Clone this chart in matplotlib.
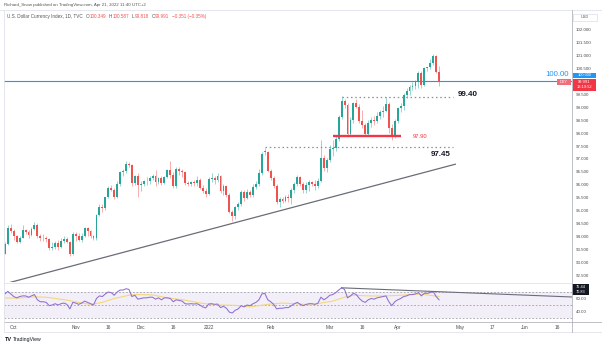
import numpy as np
import pandas as pd
import matplotlib
matplotlib.use('Agg')
import matplotlib.pyplot as plt
import matplotlib.transforms as mtransforms
from matplotlib.lines import Line2D
from matplotlib.patches import Rectangle

plt.rcParams['font.family'] = ['Liberation Sans', 'DejaVu Sans']

# TVC:DXY daily candles, 28 Sep 2021 -> 21 Apr 2022 (one row per week)
opens = [
    93.35, 93.72, 94.33, 94.22,
    94.04, 93.82, 93.97, 94.25, 94.21,
    94.07, 94.31, 94.48, 94.05, 93.97,
    93.95, 93.94, 93.56, 93.60, 93.77,
    93.62, 93.86, 93.93, 93.80, 93.33,
    94.12, 94.05, 93.90, 94.05, 94.35,
    94.23, 94.05, 93.96, 94.86, 95.15,
    95.12, 95.53, 95.90, 95.82, 95.55,
    96.05, 96.50, 96.52, 96.80, 96.76,
    96.09, 96.36, 95.99, 96.04, 96.15,
    96.14, 96.28, 96.34, 96.11, 96.26,
    96.08, 96.31, 96.56, 96.40, 95.96,
    96.62, 96.55, 96.50, 96.08, 96.05,
    96.10, 96.08, 96.20, 95.90, 95.75,
    95.65, 96.22, 96.28, 96.20, 96.33,
    95.75, 95.95, 95.62, 94.98, 94.80,
    95.15, 95.25, 95.72, 95.50, 95.72,
    95.62, 95.92, 96.05, 96.45, 97.30,
    97.25, 96.55, 96.28, 95.98, 95.35,
    95.45, 95.40, 95.55, 95.50, 95.80,
    96.02, 96.30, 96.05, 95.80, 96.00,
    96.10, 96.05, 95.95, 96.15, 97.05,
    96.65, 96.95, 97.40, 97.42, 97.78,
    98.60, 99.25, 99.08, 97.95, 98.50,
    99.15, 99.00, 98.45, 98.30, 97.98,
    98.40, 98.50, 98.45, 98.65, 98.80,
    98.85, 99.10, 98.20, 97.85, 98.45,
    98.95, 99.05, 99.48, 99.62, 99.78,
    99.82, 99.95, 100.32, 99.85, 100.50,
    100.52, 100.70, 100.97, 100.349,
]
highs = [
    93.80, 94.45, 94.50, 94.30,
    94.07, 94.05, 94.45, 94.30, 94.28,
    94.40, 94.56, 94.52, 94.12, 94.10,
    94.05, 93.96, 93.80, 93.85, 93.90,
    93.95, 94.05, 94.00, 93.85, 94.18,
    94.18, 94.15, 94.15, 94.40, 94.40,
    94.25, 94.08, 94.90, 95.25, 95.26,
    95.55, 95.95, 96.00, 95.90, 96.15,
    96.55, 96.60, 96.94, 96.90, 96.80,
    96.40, 96.45, 96.15, 96.20, 96.30,
    96.35, 96.42, 96.58, 96.30, 96.35,
    96.35, 96.60, 96.91, 96.50, 96.70,
    96.70, 96.60, 96.52, 96.15, 96.15,
    96.20, 96.35, 96.25, 96.00, 95.90,
    96.30, 96.45, 96.35, 96.45, 96.40,
    96.05, 96.00, 95.70, 95.05, 95.20,
    95.35, 95.80, 95.80, 95.85, 95.80,
    96.05, 96.15, 96.60, 97.25, 97.44,
    97.30, 96.60, 96.35, 96.05, 95.55,
    95.55, 95.60, 95.65, 95.90, 96.10,
    96.40, 96.35, 96.10, 96.10, 96.20,
    96.15, 96.20, 96.25, 97.74, 97.15,
    97.05, 97.55, 97.75, 97.90, 98.70,
    99.42, 99.30, 99.15, 98.60, 99.20,
    99.30, 99.10, 98.90, 98.40, 98.50,
    98.60, 98.65, 98.80, 98.90, 99.05,
    99.40, 99.20, 98.35, 98.55, 99.00,
    99.15, 99.55, 99.75, 99.85, 99.95,
    100.05, 100.40, 100.38, 100.55, 100.55,
    100.85, 101.03, 101.00, 100.587,
]
lows = [
    93.33, 93.70, 94.15, 93.88,
    93.75, 93.78, 93.95, 94.10, 93.98,
    94.05, 94.25, 93.98, 93.85, 93.85,
    93.80, 93.50, 93.50, 93.55, 93.50,
    93.58, 93.78, 93.75, 93.28, 93.30,
    93.85, 93.85, 93.80, 94.00, 94.05,
    93.98, 93.87, 93.90, 94.80, 94.98,
    95.05, 95.50, 95.75, 95.47, 95.50,
    95.95, 96.35, 96.45, 96.70, 95.95,
    96.00, 95.55, 95.75, 95.95, 96.00,
    96.05, 96.20, 95.98, 96.05, 96.00,
    96.05, 96.25, 96.25, 95.88, 95.90,
    96.40, 96.30, 96.00, 95.95, 95.98,
    95.95, 95.98, 95.85, 95.70, 95.55,
    95.60, 96.10, 96.05, 96.10, 95.70,
    95.60, 95.55, 94.92, 94.63, 94.70,
    95.05, 95.20, 95.40, 95.45, 95.55,
    95.55, 95.85, 95.95, 96.40, 97.15,
    96.50, 96.20, 95.90, 95.25, 95.15,
    95.30, 95.35, 95.35, 95.25, 95.70,
    95.95, 95.95, 95.70, 95.70, 95.75,
    95.95, 95.80, 95.90, 96.10, 96.55,
    96.50, 96.90, 97.10, 97.30, 97.70,
    98.55, 98.95, 97.85, 97.90, 98.40,
    98.95, 98.40, 98.20, 97.88, 97.90,
    98.25, 98.30, 98.40, 98.55, 98.60,
    98.80, 98.00, 97.75, 97.80, 98.40,
    98.80, 98.90, 99.35, 99.45, 99.65,
    99.70, 99.75, 99.75, 99.80, 100.40,
    100.45, 100.60, 100.30, 99.818,
]
closes = [
    93.72, 94.33, 94.22, 94.04,
    93.82, 93.97, 94.25, 94.21, 94.07,
    94.31, 94.48, 94.05, 93.97, 93.95,
    93.94, 93.56, 93.60, 93.77, 93.62,
    93.86, 93.93, 93.80, 93.33, 94.12,
    94.05, 93.90, 94.05, 94.35, 94.23,
    94.05, 93.96, 94.86, 95.15, 95.12,
    95.53, 95.90, 95.82, 95.55, 96.05,
    96.50, 96.52, 96.80, 96.76, 96.09,
    96.36, 95.99, 96.04, 96.15, 96.14,
    96.28, 96.34, 96.11, 96.26, 96.08,
    96.31, 96.56, 96.40, 95.96, 96.62,
    96.55, 96.50, 96.08, 96.05, 96.10,
    96.08, 96.20, 95.90, 95.75, 95.65,
    96.22, 96.28, 96.20, 96.33, 95.75,
    95.95, 95.62, 94.98, 94.80, 95.15,
    95.25, 95.72, 95.50, 95.72, 95.62,
    95.92, 96.05, 96.45, 97.18, 97.25,
    96.55, 96.28, 95.98, 95.35, 95.45,
    95.40, 95.55, 95.50, 95.80, 96.02,
    96.30, 96.05, 95.80, 96.00, 96.10,
    96.05, 95.95, 96.15, 97.05, 96.65,
    96.95, 97.40, 97.42, 97.78, 98.60,
    99.25, 99.08, 97.95, 98.50, 99.15,
    99.00, 98.45, 98.30, 97.98, 98.40,
    98.50, 98.45, 98.65, 98.80, 98.85,
    99.10, 98.20, 97.85, 98.45, 98.95,
    99.05, 99.48, 99.62, 99.78, 99.82,
    99.95, 100.32, 99.85, 100.50, 100.52,
    100.70, 100.97, 100.35, 99.991,
]

# RSI(14) per bar
rsi = [
    67, 71, 67, 63,
    61, 63, 64, 64, 62,
    64, 66, 58, 55, 55,
    54, 49, 50, 52, 50,
    52, 53, 51, 44, 54,
    53, 51, 53, 56, 54,
    52, 50, 60, 64, 63,
    67, 70, 69, 65, 70,
    73, 73, 75, 74, 63,
    65, 59, 60, 61, 61,
    62, 62, 59, 61, 58,
    61, 61, 60, 55, 58,
    57, 56, 52, 51.5, 52,
    51.5, 52, 50, 47, 45.5,
    51.5, 52, 51, 51.5, 46,
    48, 45, 39, 37.7, 42,
    44, 49, 47, 50, 49,
    52, 54, 58, 67, 68,
    58, 55, 51, 44, 45,
    45, 46, 46, 49, 52,
    54, 51, 49, 51, 52,
    52, 51, 53, 62, 58,
    61, 65, 66, 69, 73,
    76.44, 74, 61, 64, 68,
    66, 60, 56, 54, 58,
    60, 59, 61, 62, 63,
    64, 55, 49, 55, 58,
    60, 63, 64, 66, 66,
    67, 69, 64, 68, 68,
    69, 70.83, 63, 58,
]
# RSI-based MA, sampled at a few bars
rsi_ma_idx = [0, 4, 10, 14, 21, 26, 29, 33, 37, 42, 45, 50, 55, 61, 66, 72,
              78, 83, 89, 94, 100, 104, 107, 111, 115, 118, 123, 128, 134,
              140, 144, 147]
rsi_ma = [61, 60.5, 62.5, 62, 57.5, 53, 51, 54, 60, 65, 66, 65.5, 61, 57.5,
          53, 50, 49.5, 47, 51, 53, 51.5, 50, 53, 56, 62, 65, 64, 63.8, 65,
          66.9, 65, 63]

tick_dates = ['2021-10-01', '2021-11-01', '2021-11-16', '2021-12-01',
              '2021-12-16', '2022-01-03', '2022-02-01', '2022-03-01',
              '2022-03-16', '2022-04-01', '2022-05-02', '2022-05-17',
              '2022-06-01', '2022-06-16']
tick_labels = ['Oct', 'Nov', '16', 'Dec', '16', '2022', 'Feb', 'Mar', '16',
               'Apr', 'May', '17', 'Jun', '16']

# drawn levels / annotations
round_level = 100.00
res_level, res_start = 99.40, 114
sup_level, sup_start = 97.45, 88
box_level, box_start, box_end = 97.90, 111, 134
level_end = 151.6
trend_x = [0, 152.5]
trend_y = [92.2, 96.8]
rsi_tl_x = [114, 145]
rsi_tl_y = [76.44, 70.83]

W, H = 602, 346
GREEN, RED = '#26a69a', '#ef5350'

def fx(px):
    return px / W

def fy(py):
    return 1 - py / H

fig = plt.figure(figsize=(W / 100, H / 100), dpi=100)
fig.patch.set_facecolor('white')
ax = fig.add_axes([fx(4), fy(282), 568 / W, 272 / H])
ax2 = fig.add_axes([fx(4), fy(322), 568 / W, 39 / H])

o = np.array(opens)
h = np.array(highs)
l = np.array(lows)
c = np.array(closes)
x = np.arange(len(c))
col = np.where(c >= o, GREEN, RED)

ax.vlines(x, l, h, colors=col, lw=0.6, alpha=0.55)
ax.bar(x, np.maximum(np.abs(c - o), 0.03), bottom=np.minimum(o, c),
       width=0.64, color=col, lw=0)

ax.axhline(round_level, color='#2196f3', lw=0.8)
ax.plot([res_start, level_end], [res_level] * 2, color='#8c8f98',
        lw=0.9, ls=(0, (1.2, 2.2)))
ax.plot([sup_start, level_end], [sup_level] * 2, color='#8c8f98',
        lw=0.9, ls=(0, (1.2, 2.2)))
ax.plot([box_start, box_end], [box_level] * 2, color='#f23645', lw=1.7,
        solid_capstyle='butt')
ax.plot(trend_x, trend_y, color='#6a6d78', lw=0.9)

ax.text(190.9, 100.24, '100.00', color='#2196f3', fontsize=5.6,
        ha='right', va='center')
ax.text(153.3, 99.50, '99.40', color='#131722', fontsize=5.8,
        fontweight='bold', ha='left', va='center')
ax.text(151.0, 97.16, '97.45', color='#131722', fontsize=5.8,
        fontweight='bold', ha='right', va='center')
ax.text(138.2, 97.87, '97.90', color='#f23645', fontsize=4.2,
        ha='left', va='center')

xmin, xmax = -0.3, 192.0
ax.set_xlim(xmin, xmax)
ax.set_ylim(92.269, 102.731)
ax.set_xticks([])
ax.yaxis.tick_right()
price_ticks = [v for v in np.arange(92.5, 102.01, 0.5) if abs(v - 100) > 1e-6]
ax.set_yticks(price_ticks)
ax.set_yticklabels([f'{v:.3f}' for v in price_ticks])
ax.tick_params(axis='y', length=0, pad=2.8, labelsize=3.2,
               labelcolor='#4a4a4a')

# RSI pane
ax2.axhspan(30, 70, color='#7e57c2', alpha=0.09, lw=0)
for lv in (70, 50, 30):
    ax2.axhline(lv, color='#8c8f98', lw=0.5, ls=(0, (2.5, 2.5)))
ax2.plot(rsi_ma_idx, rsi_ma, color='#f3d77a', lw=0.8)
ax2.plot(x, rsi, color='#8e6fd0', lw=0.75)
slope = (rsi_tl_y[1] - rsi_tl_y[0]) / (rsi_tl_x[1] - rsi_tl_x[0])
ax2.plot([rsi_tl_x[0], xmax], [rsi_tl_y[0], rsi_tl_y[0] + slope * (xmax - rsi_tl_x[0])],
         color='#6a6d78', lw=0.8)
ax2.set_xlim(xmin, xmax)
ax2.set_ylim(23.85, 83.85)
ax2.yaxis.tick_right()
ax2.set_yticks([60, 40])
ax2.set_yticklabels(['60.00', '40.00'])
ax2.tick_params(axis='y', length=0, pad=2.8, labelsize=3.2,
                labelcolor='#4a4a4a')

days = pd.bdate_range('2021-09-28', '2022-06-30')
tick_pos = days.get_indexer(pd.to_datetime(tick_dates))
ax2.set_xticks(tick_pos)
ax2.set_xticklabels(tick_labels)
ax2.tick_params(axis='x', length=0, pad=2.2, labelsize=3.4,
                labelcolor='#4a4a4a')

for a in (ax, ax2):
    for s in a.spines.values():
        s.set_visible(False)

# frame lines
def hline(y, x0, x1, color, lw=0.6):
    fig.add_artist(Line2D([fx(x0), fx(x1)], [fy(y), fy(y)], color=color, lw=lw))

def vline(x0, y0, y1, color, lw=0.6):
    fig.add_artist(Line2D([fx(x0), fx(x0)], [fy(y0), fy(y1)], color=color, lw=lw))

hline(10, 0, 602, '#e0e3eb')
hline(282.5, 4, 572, '#e0e3eb')
hline(322, 4, 602, '#b2b5be')
hline(332, 4, 602, '#e0e3eb')
vline(4, 10, 332, '#e0e3eb')
vline(572, 10, 332, '#b2b5be')

def box(x0, y0, x1, y1, fc, ec='none'):
    fig.add_artist(Rectangle((fx(x0), fy(y1)), (x1 - x0) / W, (y1 - y0) / H,
                             transform=fig.transFigure, fc=fc, ec=ec, lw=0.4))

def label(px, py, s, **kw):
    return fig.text(fx(px), fy(py), s, va='center', **kw)

box(573, 14, 597, 20.5, 'white', '#d1d4dc')
label(585, 17.3, 'USD', ha='center', fontsize=2.8, color='#555555')
box(573, 72.8, 596, 77.8, '#2196f3')
label(584.5, 75.4, '100.000', ha='center', fontsize=2.9, color='white')
box(573, 79, 596, 90.5, '#f23645')
label(584.5, 81.9, '99.991', ha='center', fontsize=2.9, color='white')
label(584.5, 87.4, '13:19:52', ha='center', fontsize=2.9, color='white')
box(557, 79, 571, 85, '#f26d79')
label(564, 82.1, 'DXY', ha='center', fontsize=2.8, color='white')
box(572, 284, 589, 289.5, '#131722')
label(580.5, 286.8, '76.44', ha='center', fontsize=2.8, color='white')
box(572, 289.5, 589, 295, '#131722')
label(580.5, 292.3, '70.83', ha='center', fontsize=2.8, color='white')

# header
label(4, 5.2, 'Richard_Snow published on TradingView.com, Apr 21, 2022 11:40 UTC+2',
      ha='left', fontsize=3.2, color='#555555')
fig.canvas.draw()
renderer = fig.canvas.get_renderer()
parts = [('U.S. Dollar Currency Index, 1D, TVC', '#555555', 0),
         ('O', '#555555', 3), ('100.349', RED, 0.4),
         ('H', '#555555', 2.5), ('100.587', RED, 0.4),
         ('L', '#555555', 2.5), ('99.818', RED, 0.4),
         ('C', '#555555', 2.5), ('99.991', RED, 0.4),
         ('\u22120.351 (\u22120.35%)', RED, 2.5)]
cx = 7
for s, colr, gap in parts:
    cx += gap
    t = label(cx, 16.3, s, ha='left', fontsize=3.3, color=colr)
    cx = t.get_window_extent(renderer).x1

label(4.5, 339.5, 'TV', ha='left', fontsize=4.0, fontweight='bold', color='#131722')
label(13, 339.5, 'TradingView', ha='left', fontsize=3.7, color='#131722')

fig.savefig('out.png', dpi=100, facecolor='white')
